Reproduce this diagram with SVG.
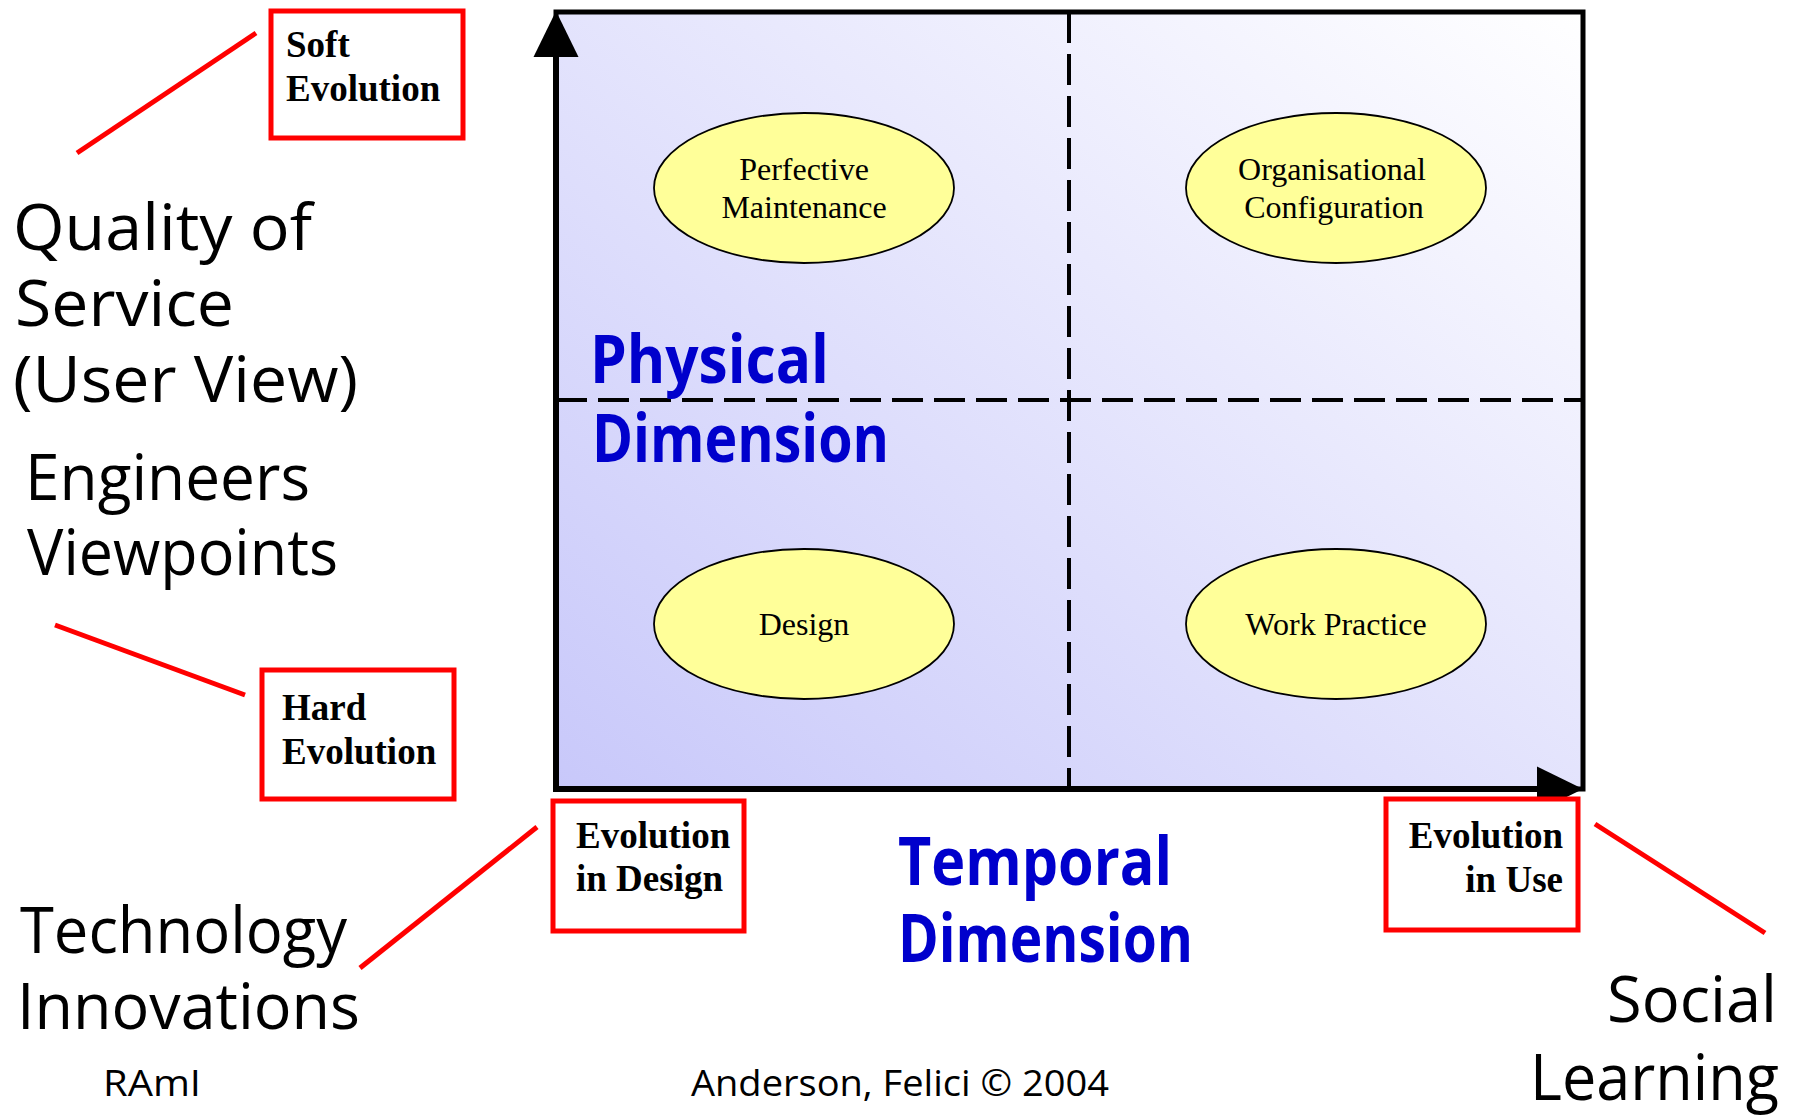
<svg xmlns="http://www.w3.org/2000/svg" width="1798" height="1119" viewBox="0 0 1798 1119">
  <style>
    .comic { font-family: "Open Sans", "DejaVu Sans", sans-serif; fill: #000000; }
    .big { font-size: 64px; }
    .small { font-size: 36px; }
    .blue { font-family: "Open Sans", "DejaVu Sans", sans-serif; font-weight: bold; font-size: 66px; fill: #0000CC; }
    .boxtext { font-family: "Liberation Serif", "Times New Roman", serif; font-weight: bold; font-size: 37px; fill: #000000; }
    .redbox { fill: #FFFFFF; stroke: #FF0000; stroke-width: 5; }
    .redline { stroke: #FF0000; stroke-width: 5; fill: none; }
    .oval { fill: #FFFF99; stroke: #000000; stroke-width: 1.8; }
    .ovaltext { font-family: "Liberation Serif", "Times New Roman", serif; font-size: 32px; fill: #000000; text-anchor: middle; }
    .dash { stroke: #000000; stroke-width: 4; stroke-dasharray: 31 11; fill: none; }
    .axis { stroke: #000000; stroke-width: 6; fill: none; }
  </style>
  <defs>
    <linearGradient id="bg" x1="0" y1="1" x2="1" y2="0">
      <stop offset="0" stop-color="#C8C8FA"/>
      <stop offset="1" stop-color="#FFFFFF"/>
    </linearGradient>
    <marker id="head" viewBox="0 -23 47 46" refX="0" refY="0" markerWidth="47" markerHeight="46" markerUnits="userSpaceOnUse" orient="auto">
      <path d="M0,-22.5 L46,0 L0,22.5 Z" fill="#000000"/>
    </marker>
  </defs>
  <rect width="1798" height="1119" fill="#FFFFFF"/>

  <g id="quadrant-chart">
    <rect x="556" y="12" width="1027" height="777" fill="url(#bg)" stroke="#000000" stroke-width="5"/>
    <line class="dash" x1="556" y1="400" x2="1583" y2="400"/>
    <line class="dash" x1="1069" y1="12" x2="1069" y2="789"/>
    <line class="axis" x1="556" y1="792" x2="556" y2="57" marker-end="url(#head)"/>
    <line class="axis" x1="553" y1="789" x2="1537" y2="789" marker-end="url(#head)"/>
  </g>

  <g id="connectors">
    <line class="redline" x1="256" y1="33" x2="77" y2="153"/>
    <line class="redline" x1="55" y1="625" x2="245" y2="695"/>
    <line class="redline" x1="537" y1="827" x2="360" y2="968"/>
    <line class="redline" x1="1595" y1="824" x2="1765" y2="933"/>
  </g>

  <g id="node-perfective">
    <ellipse class="oval" cx="804" cy="188" rx="150" ry="75"/>
    <text class="ovaltext" x="804" y="180">Perfective</text>
    <text class="ovaltext" x="804" y="218">Maintenance</text>
  </g>
  <g id="node-organisational">
    <ellipse class="oval" cx="1336" cy="188" rx="150" ry="75"/>
    <text class="ovaltext" x="1332" y="180">Organisational</text>
    <text class="ovaltext" x="1334" y="218">Configuration</text>
  </g>
  <g id="node-design">
    <ellipse class="oval" cx="804" cy="624" rx="150" ry="75"/>
    <text class="ovaltext" x="804" y="635">Design</text>
  </g>
  <g id="node-work-practice">
    <ellipse class="oval" cx="1336" cy="624" rx="150" ry="75"/>
    <text class="ovaltext" x="1336" y="635">Work Practice</text>
  </g>

  <g id="label-physical">
    <text class="blue" x="590" y="383" textLength="239" lengthAdjust="spacingAndGlyphs">Physical</text>
    <text class="blue" x="592" y="462" textLength="297" lengthAdjust="spacingAndGlyphs">Dimension</text>
  </g>
  <g id="label-temporal">
    <text class="blue" x="898" y="885" textLength="274" lengthAdjust="spacingAndGlyphs">Temporal</text>
    <text class="blue" x="898" y="962" textLength="295" lengthAdjust="spacingAndGlyphs">Dimension</text>
  </g>

  <g id="node-soft-evolution">
    <rect class="redbox" x="271" y="11" width="192" height="127"/>
    <text class="boxtext" x="286" y="57">Soft</text>
    <text class="boxtext" x="286" y="101">Evolution</text>
  </g>
  <g id="node-hard-evolution">
    <rect class="redbox" x="262" y="670" width="192" height="129"/>
    <text class="boxtext" x="282" y="720">Hard</text>
    <text class="boxtext" x="282" y="764">Evolution</text>
  </g>
  <g id="node-evolution-design">
    <rect class="redbox" x="553" y="801" width="191" height="130"/>
    <text class="boxtext" x="576" y="848">Evolution</text>
    <text class="boxtext" x="576" y="891">in Design</text>
  </g>
  <g id="node-evolution-use">
    <rect class="redbox" x="1386" y="799" width="192" height="131"/>
    <text class="boxtext" x="1563" y="848" text-anchor="end">Evolution</text>
    <text class="boxtext" x="1563" y="892" text-anchor="end">in Use</text>
  </g>

  <g id="label-quality">
    <text class="comic big" x="13" y="250" textLength="299" lengthAdjust="spacingAndGlyphs">Quality of</text>
    <text class="comic big" x="15" y="326" textLength="219" lengthAdjust="spacingAndGlyphs">Service</text>
    <text class="comic big" x="13" y="402" textLength="345" lengthAdjust="spacingAndGlyphs">(User View)</text>
  </g>
  <g id="label-engineers">
    <text class="comic big" x="25" y="500" textLength="285" lengthAdjust="spacingAndGlyphs">Engineers</text>
    <text class="comic big" x="27" y="575" textLength="311" lengthAdjust="spacingAndGlyphs">Viewpoints</text>
  </g>
  <g id="label-technology">
    <text class="comic big" x="20" y="953" textLength="327" lengthAdjust="spacingAndGlyphs">Technology</text>
    <text class="comic big" x="17" y="1029" textLength="343" lengthAdjust="spacingAndGlyphs">Innovations</text>
  </g>
  <g id="label-social">
    <text class="comic big" x="1607" y="1022" textLength="170" lengthAdjust="spacingAndGlyphs">Social</text>
    <text class="comic big" x="1530" y="1100" textLength="249" lengthAdjust="spacingAndGlyphs">Learning</text>
  </g>
  <g id="footer">
    <text class="comic small" x="103" y="1096" textLength="98" lengthAdjust="spacingAndGlyphs">RAmI</text>
    <text class="comic small" x="691" y="1096" textLength="418" lengthAdjust="spacingAndGlyphs">Anderson, Felici © 2004</text>
  </g>
</svg>
